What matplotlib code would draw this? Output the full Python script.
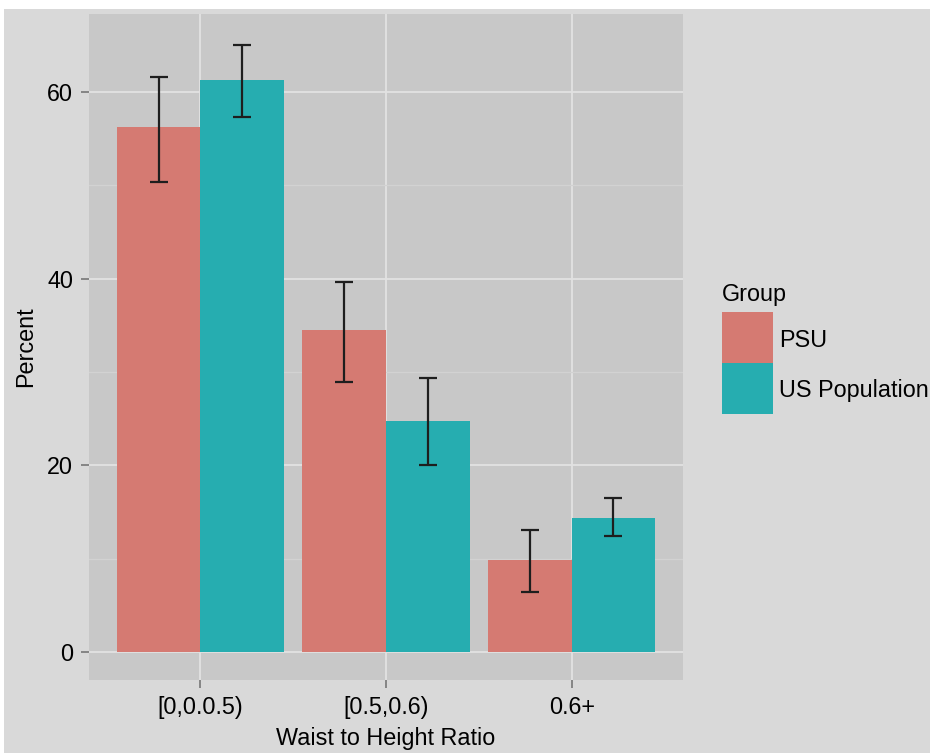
import matplotlib
matplotlib.use("Agg")
import matplotlib.pyplot as plt
from matplotlib.patches import Rectangle
import numpy as np

plt.rcParams['font.family'] = ['Liberation Sans', 'DejaVu Sans']

categories = ["[0,0.0.5)", "[0.5,0.6)", "0.6+"]
groups = ["PSU", "US Population"]
psu_pct = [56.2, 34.5, 9.9]
psu_lo = [50.4, 28.9, 6.4]
psu_hi = [61.6, 39.6, 13.1]
us_pct = [61.3, 24.7, 14.4]
us_lo = [57.3, 20.0, 12.4]
us_hi = [65.0, 29.4, 16.5]
yticks = [0, 20, 40, 60]
minor_yticks = [10, 30, 50]

FS = 16.8
W, H = 930, 753
fig = plt.figure(figsize=(W / 100, H / 100), dpi=100)
fig.patch.set_facecolor("white")
fig.add_artist(Rectangle((4 / W, 0), 1 - 4 / W, 1 - 9 / H, transform=fig.transFigure,
                         facecolor="#D9D9D9", edgecolor="none", zorder=-10))

ax = fig.add_axes([89 / W, 1 - 680 / H, 594 / W, 666 / H])
ax.set_facecolor("#C8C8C8")
for s in ax.spines.values():
    s.set_visible(False)

x = np.arange(1, len(categories) + 1)
bw = 0.45
cols = ["#D57A72", "#26ADB0"]
ax.bar(x - bw / 2, psu_pct, width=bw, color=cols[0], zorder=3, linewidth=0)
ax.bar(x + bw / 2, us_pct, width=bw, color=cols[1], zorder=3, linewidth=0)

for off, pct, lo, hi in [(-bw / 2, psu_pct, psu_lo, psu_hi), (bw / 2, us_pct, us_lo, us_hi)]:
    pct = np.array(pct); lo = np.array(lo); hi = np.array(hi)
    ax.errorbar(x + off, pct, yerr=[pct - lo, hi - pct], fmt="none", ecolor="#1E1E1E",
                elinewidth=1.6, capsize=6.5, capthick=1.6, zorder=4)

ax.set_xlim(0.4, 3.6)
ax.set_ylim(-3.0, 68.36)
ax.set_xticks(x)
ax.set_xticklabels(categories)
ax.set_yticks(yticks)
ax.set_yticks(minor_yticks, minor=True)
ax.grid(True, which="major", color="#E2E2E2", linewidth=1.3, zorder=1)
ax.grid(True, which="minor", axis="y", color="#D2D2D2", linewidth=0.9, zorder=1)
ax.set_axisbelow(True)
ax.tick_params(which="major", length=6, width=1.3, color="#7F7F7F", labelsize=FS,
               labelcolor="black", pad=5.5)
ax.tick_params(which="minor", length=0)

ax.set_xlabel("Waist to Height Ratio", fontsize=FS, va="top")
ax.xaxis.set_label_coords(0.5, (680 - 727) / 666)
ax.set_ylabel("Percent", fontsize=FS, va="center")
ax.yaxis.set_label_coords((25.5 - 89) / 594, 0.5)

# legend
fig.text(722 / W, 1 - 294 / H, "Group", fontsize=FS, va="center", ha="left")
for i, (g, c) in enumerate(zip(groups, cols)):
    top = 312 + i * 51
    fig.add_artist(Rectangle((722 / W, 1 - (top + 51) / H), 51 / W, 51 / H,
                             transform=fig.transFigure, facecolor=c, edgecolor="none"))
    fig.text(779 / W, 1 - (top + 28) / H, g, fontsize=FS, va="center", ha="left")

fig.savefig("out.png", dpi=100)
